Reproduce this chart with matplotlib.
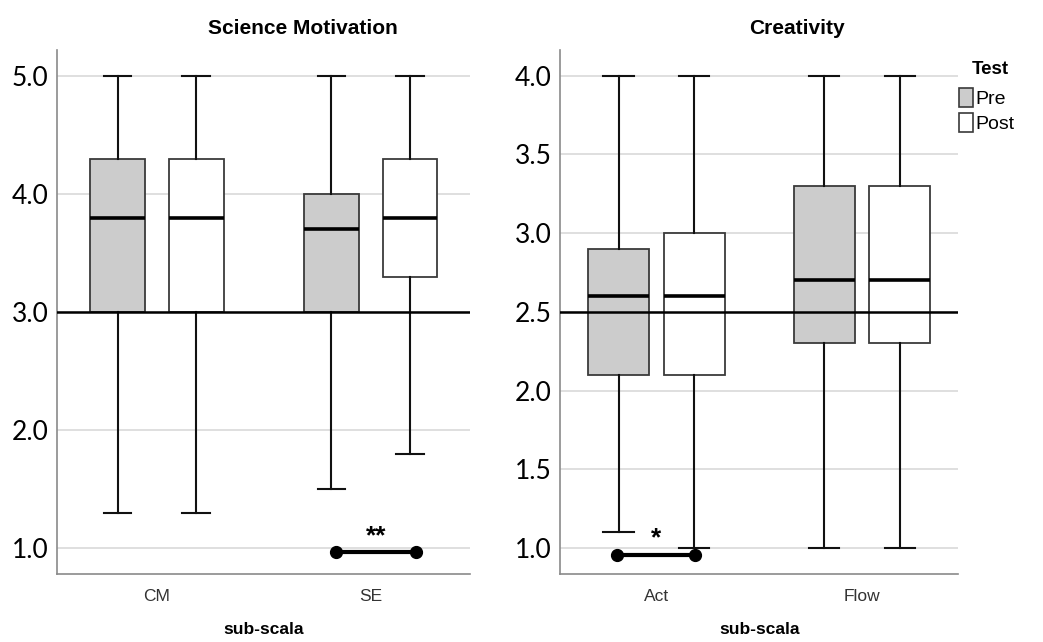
import matplotlib
matplotlib.use("Agg")
import matplotlib.pyplot as plt
from matplotlib.patches import Patch

plt.rcParams['font.family'] = ['Liberation Sans', 'DejaVu Sans']

# ---- data ----
sm_groups = ['CM', 'SE']
sm_pre_lo = [1.3, 1.5]
sm_pre_q1 = [3.0, 3.0]
sm_pre_med = [3.8, 3.7]
sm_pre_q3 = [4.3, 4.0]
sm_pre_hi = [5.0, 5.0]
sm_post_lo = [1.3, 1.8]
sm_post_q1 = [3.0, 3.3]
sm_post_med = [3.8, 3.8]
sm_post_q3 = [4.3, 4.3]
sm_post_hi = [5.0, 5.0]

cr_groups = ['Act', 'Flow']
cr_pre_lo = [1.1, 1.0]
cr_pre_q1 = [2.1, 2.3]
cr_pre_med = [2.6, 2.7]
cr_pre_q3 = [2.9, 3.3]
cr_pre_hi = [4.0, 4.0]
cr_post_lo = [1.0, 1.0]
cr_post_q1 = [2.1, 2.3]
cr_post_med = [2.6, 2.7]
cr_post_q3 = [3.0, 3.3]
cr_post_hi = [4.0, 4.0]

sm_ticks = [1.0, 2.0, 3.0, 4.0, 5.0]
cr_ticks = [1.0, 1.5, 2.0, 2.5, 3.0, 3.5, 4.0]
sm_ref, cr_ref = 3.0, 2.5
# significance brackets: (x0, x1, y, label)
sm_sig = (0.84, 1.21, 0.965, '**')
cr_sig = (-0.19, 0.19, 0.957, '*')

PRE_COL = '#cccccc'
POST_COL = 'white'
EDGE = '#3a3a3a'


def stats(lo, q1, med, q3, hi):
    return [dict(whislo=a, q1=b, med=c, q3=d, whishi=e, fliers=[])
            for a, b, c, d, e in zip(lo, q1, med, q3, hi)]


def panel(ax, groups, pre, post, width, ticks, ylim, ref, sig):
    off = 0.184
    for st, col, sgn in [(pre, PRE_COL, -1), (post, POST_COL, 1)]:
        pos = [i + sgn * off for i in range(len(groups))]
        ax.bxp(st, positions=pos, widths=width, patch_artist=True,
               showfliers=False, capwidths=width / 2,
               boxprops=dict(facecolor=col, edgecolor=EDGE, lw=1.3),
               whiskerprops=dict(color='#111111', lw=1.5),
               capprops=dict(color='#111111', lw=1.5),
               medianprops=dict(color='black', lw=2.6), zorder=3)
    ax.set_xlim(-0.467, 1.465)
    ax.set_ylim(*ylim)
    ax.set_yticks(ticks)
    ax.set_yticklabels([f'{t:.1f}' for t in ticks], fontsize=19,
                       family='Lato')
    ax.set_xticks(range(len(groups)))
    ax.set_xticklabels(groups, fontsize=12.5, color='#333333')
    ax.tick_params(length=0, pad=6)
    ax.tick_params(axis='x', pad=11)
    for t in ticks:
        ax.axhline(t, color='#d6d6d6', lw=1.1, zorder=1)
    ax.axhline(ref, color='black', lw=1.8, zorder=5)
    for s in ['top', 'right']:
        ax.spines[s].set_visible(False)
    for s in ['left', 'bottom']:
        ax.spines[s].set_color('#8a8a8a')
        ax.spines[s].set_linewidth(1.2)
    x0, x1, y, lab = sig
    ax.plot([x0, x1], [y, y], color='black', lw=3, marker='o',
            markersize=8.5, zorder=6, clip_on=False)
    ax.text((x0 + x1) / 2, y + 0.008 * (ylim[1] - ylim[0]), lab,
            ha='center', va='bottom', fontsize=19, fontweight='bold',
            zorder=6)


fig = plt.figure(figsize=(10.43, 6.42), dpi=100)
ax1 = fig.add_axes([0.0547, 0.1059, 0.3960, 0.8162])
ax2 = fig.add_axes([0.5372, 0.1059, 0.3810, 0.8162])

panel(ax1, sm_groups,
      stats(sm_pre_lo, sm_pre_q1, sm_pre_med, sm_pre_q3, sm_pre_hi),
      stats(sm_post_lo, sm_post_q1, sm_post_med, sm_post_q3, sm_post_hi),
      0.257, sm_ticks, (0.78, 5.22), sm_ref, sm_sig)
panel(ax2, cr_groups,
      stats(cr_pre_lo, cr_pre_q1, cr_pre_med, cr_pre_q3, cr_pre_hi),
      stats(cr_post_lo, cr_post_q1, cr_post_med, cr_post_q3, cr_post_hi),
      0.297, cr_ticks, (0.835, 4.163), cr_ref, cr_sig)

for xc, title in [(303, 'Science Motivation'), (797, 'Creativity')]:
    fig.text(xc / 1043, 1 - 28 / 642, title, ha='center', va='center',
             fontsize=15, fontweight='bold')
for xc in [264, 760]:
    fig.text(xc / 1043, 1 - 630 / 642, 'sub-scala', ha='center',
             va='center', fontsize=12.5, fontweight='bold')

# legend: title placed separately to get the gap seen in the reference
fig.text(990 / 1043, 1 - 70 / 642, 'Test', ha='center', va='center',
         fontsize=13.5, fontweight='bold')
handles = [Patch(facecolor=PRE_COL, edgecolor=EDGE, lw=1.2, label='Pre'),
           Patch(facecolor=POST_COL, edgecolor=EDGE, lw=1.2, label='Post')]
fig.legend(handles=handles, loc='upper left',
           bbox_to_anchor=(959 / 1043, 1 - 88 / 642), frameon=False,
           fontsize=14, handlelength=0.7, handleheight=1.15,
           handletextpad=0.15, labelspacing=0.25, borderaxespad=0,
           borderpad=0)

fig.savefig('out.png', dpi=100)
